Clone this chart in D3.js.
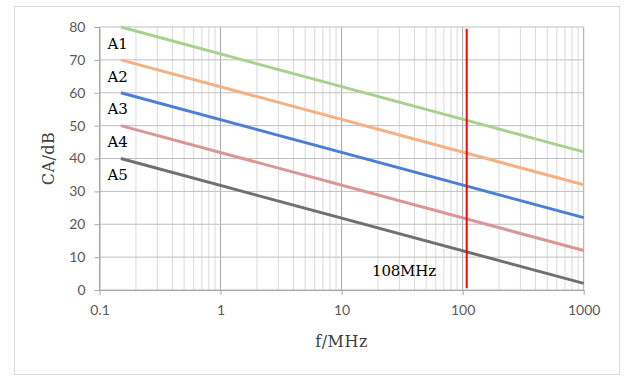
<!DOCTYPE html>
<html>
<head>
<meta charset="utf-8">
<script src="https://cdn.jsdelivr.net/npm/d3@7"></script>
<style>
  body { margin: 0; background: #fff; }
  svg { display: block; }
</style>
</head>
<body>
<div id="chart"></div>
<script>
// series: value at 0.15 MHz and at 1000 MHz
const freqs = [0.15, 1000]
const seriesNames = ['A1', 'A2', 'A3', 'A4', 'A5']
const a1 = [80, 42]
const a2 = [70, 32]
const a3 = [60, 22]
const a4 = [50, 12]
const a5 = [40, 2]
const seriesColors = ['#a9d18e', '#f4b183', '#4a7fd4', '#d99694', '#707070']
const labelValues = [75, 65, 55, 45, 35]
const markerFreq = 108
const markerRange = [0.5, 79.5]
const markerLabel = '108MHz'
const yTicks = [0, 10, 20, 30, 40, 50, 60, 70, 80]
const xTicks = [0.1, 1, 10, 100, 1000]

const width = 624, height = 376
const margin = { top: 27, right: 40, bottom: 86, left: 99.5 }
const plotW = 583.7 - margin.left
const plotH = 290 - margin.top
const serif = '"DejaVu Serif", "Liberation Serif", serif'

const svg = d3.select('#chart').append('svg')
    .attr('width', width)
    .attr('height', height)

// outer frame
svg.append('rect')
    .attr('x', 14.5).attr('y', 6.5)
    .attr('width', 605).attr('height', 368)
    .attr('fill', '#fff')
    .attr('stroke', '#d9d9d9')

const g = svg.append('g')
    .attr('transform', `translate(${margin.left}, ${margin.top})`)

const x = d3.scaleLog().domain([0.1, 1000]).range([0, plotW])
const y = d3.scaleLinear().domain([0, 80]).range([plotH, 0])

// minor vertical grid (2..9 in each decade)
let minor = []
for (let d = 0.1; d < 1000; d *= 10) {
    for (let k = 2; k <= 9; k++) minor.push(d * k)
}
g.selectAll('.minor')
    .data(minor)
    .join('line')
    .attr('class', 'minor')
    .attr('x1', d => x(d)).attr('x2', d => x(d))
    .attr('y1', 0).attr('y2', plotH)
    .attr('stroke', '#d9d9d9')
    .attr('stroke-width', 1)

// major vertical grid
g.selectAll('.vmajor')
    .data(xTicks)
    .join('line')
    .attr('class', 'vmajor')
    .attr('x1', d => x(d)).attr('x2', d => x(d))
    .attr('y1', 0).attr('y2', plotH)
    .attr('stroke', '#a6a6a6')
    .attr('stroke-width', 1)

// horizontal grid
g.selectAll('.hgrid')
    .data(yTicks)
    .join('line')
    .attr('class', 'hgrid')
    .attr('x1', 0).attr('x2', plotW)
    .attr('y1', d => y(d)).attr('y2', d => y(d))
    .attr('stroke', '#bfbfbf')
    .attr('stroke-width', 1)

// axes
const yAxis = d3.axisLeft(y).tickValues(yTicks).tickSizeInner(5).tickSizeOuter(0).tickPadding(6)
const xAxis = d3.axisBottom(x).tickValues(xTicks).tickFormat(d3.format('~g')).tickSizeInner(5).tickSizeOuter(0).tickPadding(10)

const ay = g.append('g').call(yAxis)
const ax = g.append('g').attr('transform', `translate(0, ${plotH})`).call(xAxis)
for (const a of [ax, ay]) {
    a.selectAll('path, line').attr('stroke', '#a6a6a6')
    a.selectAll('text')
        .attr('fill', '#595959')
        .attr('font-family', 'Lato, "Open Sans", sans-serif')
        .attr('font-size', '14px')
}
ay.selectAll('text').attr('dx', '-3')

// series lines
const allSeries = [a1, a2, a3, a4, a5]
const line = d3.line()
    .x(d => x(d[0]))
    .y(d => y(d[1]))

allSeries.forEach((vals, i) => {
    g.append('path')
        .datum(freqs.map((f, j) => [f, vals[j]]))
        .attr('d', line)
        .attr('fill', 'none')
        .attr('stroke', seriesColors[i])
        .attr('stroke-width', 3)
})

// series labels
g.selectAll('.slabel')
    .data(seriesNames)
    .join('text')
    .attr('class', 'slabel')
    .attr('x', x(0.1) + 8)
    .attr('y', (d, i) => y(labelValues[i]))
    .attr('dy', '0.35em')
    .attr('font-family', serif)
    .attr('font-size', '15px')
    .attr('fill', '#000')
    .text(d => d)

// 108 MHz marker
g.append('line')
    .attr('x1', x(markerFreq)).attr('x2', x(markerFreq))
    .attr('y1', y(markerRange[1])).attr('y2', y(markerRange[0]))
    .attr('stroke', '#ff0000')
    .attr('stroke-width', 2)

g.append('text')
    .attr('x', x(20) - 6)
    .attr('y', y(6))
    .attr('dy', '0.35em')
    .attr('font-family', serif)
    .attr('font-size', '15px')
    .attr('textLength', 64)
    .attr('fill', '#000')
    .text(markerLabel)

// axis titles
svg.append('text')
    .attr('transform', `translate(54, ${margin.top + plotH / 2}) rotate(-90)`)
    .attr('text-anchor', 'middle')
    .attr('font-family', serif)
    .attr('font-size', '16px')
    .attr('letter-spacing', '0.5px')
    .attr('fill', '#404040')
    .text('CA/dB')

svg.append('text')
    .attr('x', margin.left + plotW / 2)
    .attr('y', 347)
    .attr('text-anchor', 'middle')
    .attr('font-family', serif)
    .attr('font-size', '16px')
    .attr('letter-spacing', '0.5px')
    .attr('fill', '#404040')
    .text('f/MHz')
</script>
</body>
</html>
